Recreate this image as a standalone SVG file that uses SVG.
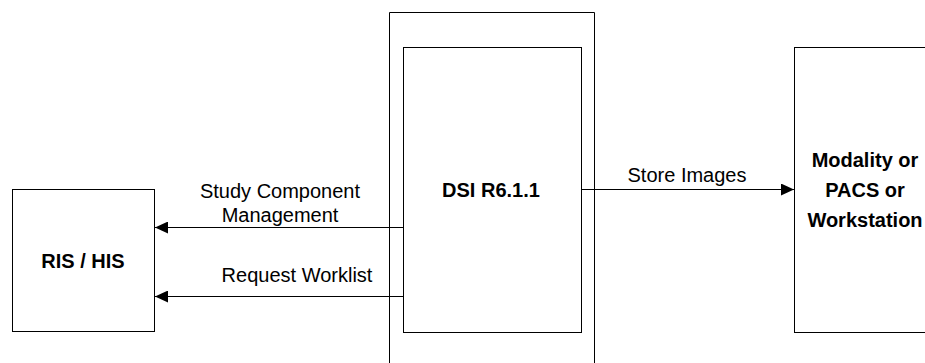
<svg xmlns="http://www.w3.org/2000/svg" width="925" height="363" viewBox="0 0 925 363">
<style>
.box{fill:#fff;stroke:#000;stroke-width:1}
.ln{fill:none;stroke:#000;stroke-width:1}
.t{font-family:"Liberation Sans",Arial,sans-serif;font-size:20px;fill:#000}
.b{font-weight:bold;text-anchor:middle}
.m{text-anchor:middle}
</style>
<defs>
<marker id="ah" markerWidth="13" markerHeight="12" refX="13" refY="6" orient="auto" markerUnits="userSpaceOnUse">
<path d="M0,0 L13,6 L0,12 Z" fill="#000"/>
</marker>
</defs>
<g id="dsi-container">
<path class="ln" d="M389.5,375 V12.5 H594.5 V375"/>
</g>
<g id="dsi">
<rect class="box" x="403.5" y="47.5" width="178" height="285"/>
<text class="t b" x="491" y="197">DSI R6.1.1</text>
</g>
<g id="ris">
<rect class="box" x="12.5" y="189.5" width="142" height="142"/>
<text class="t b" x="83" y="268">RIS / HIS</text>
</g>
<g id="modality">
<rect class="box" x="794.5" y="47.5" width="140" height="285"/>
<text class="t b" x="865" y="167">Modality or</text>
<text class="t b" x="865" y="197">PACS or</text>
<text class="t b" x="865" y="227">Workstation</text>
</g>
<g id="connectors">
<line class="ln" x1="403" y1="227.5" x2="155" y2="227.5" marker-end="url(#ah)"/>
<line class="ln" x1="403" y1="296.5" x2="155" y2="296.5" marker-end="url(#ah)"/>
<line class="ln" x1="582" y1="189.5" x2="794" y2="189.5" marker-end="url(#ah)"/>
<text class="t m" x="280" y="198">Study Component</text>
<text class="t m" x="280" y="222">Management</text>
<text class="t m" x="297" y="282">Request Worklist</text>
<text class="t m" x="687" y="182">Store Images</text>
</g>
</svg>
